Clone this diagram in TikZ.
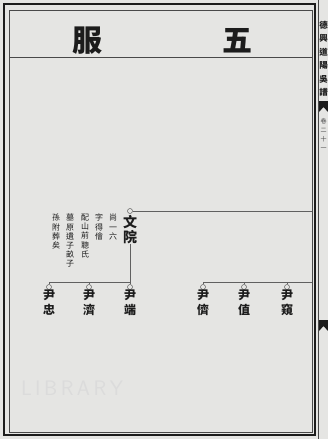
\documentclass[tikz,border=0pt]{standalone}
\usepackage{fontspec}
\newfontfamily\cjk{Noto Sans CJK TC}
\usetikzlibrary{positioning}
\definecolor{paper}{RGB}{229,229,227}
\definecolor{ink}{RGB}{28,28,28}
\tikzset{
  person/.style={font=\cjk\bfseries\fontsize{12}{15}\selectfont, align=center, inner sep=0pt, anchor=north, text=ink},
  knot/.style={circle, draw=ink!70, line width=0.5pt, inner sep=0pt, minimum size=5pt, fill=paper},
  note/.style={font=\cjk\fontsize{8}{9.2}\selectfont, align=center, inner sep=0pt, anchor=north, text=ink},
  headchar/.style={font=\cjk\bfseries\fontsize{30}{30}\selectfont, inner sep=0pt, text=ink},
  link/.style={draw=ink!70, line width=0.4pt}
}

\begin{document}
\begin{tikzpicture}[x=1pt,y=-1pt]
  \fill[paper] (0,0) rectangle (328,439);
  \useasboundingbox (0,0) rectangle (328,439);

  % frame
  \draw[ink, line width=2pt] (4,4) rectangle (315,435);
  \draw[ink!80, line width=0.5pt] (9,10) rectangle (312,432);
  \draw[ink!80, line width=0.5pt] (318,0) -- (318,439);

  % watermark
  \node[text=black!14, font=\sffamily\fontsize{21}{21}\selectfont] (wm) at (72,388) {L\,I\,B\,R\,A\,R\,Y};

  % heading
  \node[headchar] (fu) at (87,41) {服};
  \node[headchar] (wu) at (237,41) {五};
  \draw[ink!80, line width=0.5pt] (9,57) -- (312,57);

  % spine
  \node[font=\cjk\bfseries\fontsize{8.5}{13.5}\selectfont, align=center, inner sep=0pt, anchor=north, text=ink] (spine) at (323.5,21) {德\\興\\道\\陽\\吳\\譜};
  \fill[ink] (319,101) -- (328,101) -- (328,112) -- (323.5,107) -- (319,112) -- cycle;
  \node[font=\cjk\fontsize{6}{9}\selectfont, align=center, inner sep=0pt, anchor=north, text=ink!80] (juan) at (323.5,118) {卷\\二\\十\\一};
  \fill[ink] (319,320) -- (328,320) -- (328,331) -- (323.5,326) -- (319,331) -- cycle;

  % father
  \node[knot] (k0) at (130,211) {};
  \node[person, font=\cjk\bfseries\fontsize{14}{15}\selectfont] (wy) at (130,215) {文\\院};
  \coordinate (rim1) at (312,211);
  \draw[link] (k0.east) -- (rim1);

  % notes
  \node[note] (n1) at (113,214) {尚\\一\\六};
  \node[note] (n2) at (99,214) {字\\得\\儈};
  \node[note] (n3) at (85,214) {配\\山\\前\\聰\\氏};
  \node[note] (n4) at (70,214) {墓\\原\\遺\\子\\畝\\子};
  \node[note] (n5) at (56,214) {孫\\附\\葬\\矣};

  % sons
  \foreach \x/\c/\name in {49/忠/zhong, 89/濟/ji, 130/端/duan, 203/儕/chai, 244/值/zhi, 287/窺/kui}{
    \node[knot] (k\name) at (\x,287) {};
    \node[person] (\name) at (\x,290) {尹\\\c};
  }
  \coordinate (rim2) at (312,282);
  \draw[link] (wy.south) -- (kduan.north);
  \draw[link] (kzhong.north) |- (kduan.north |- rim2);
  \draw[link] (kji.north) -- (kji.north |- rim2);
  \draw[link] (kchai.north) |- (rim2);
  \draw[link] (kzhi.north) -- (kzhi.north |- rim2);
  \draw[link] (kkui.north) -- (kkui.north |- rim2);
\end{tikzpicture}
\end{document}
